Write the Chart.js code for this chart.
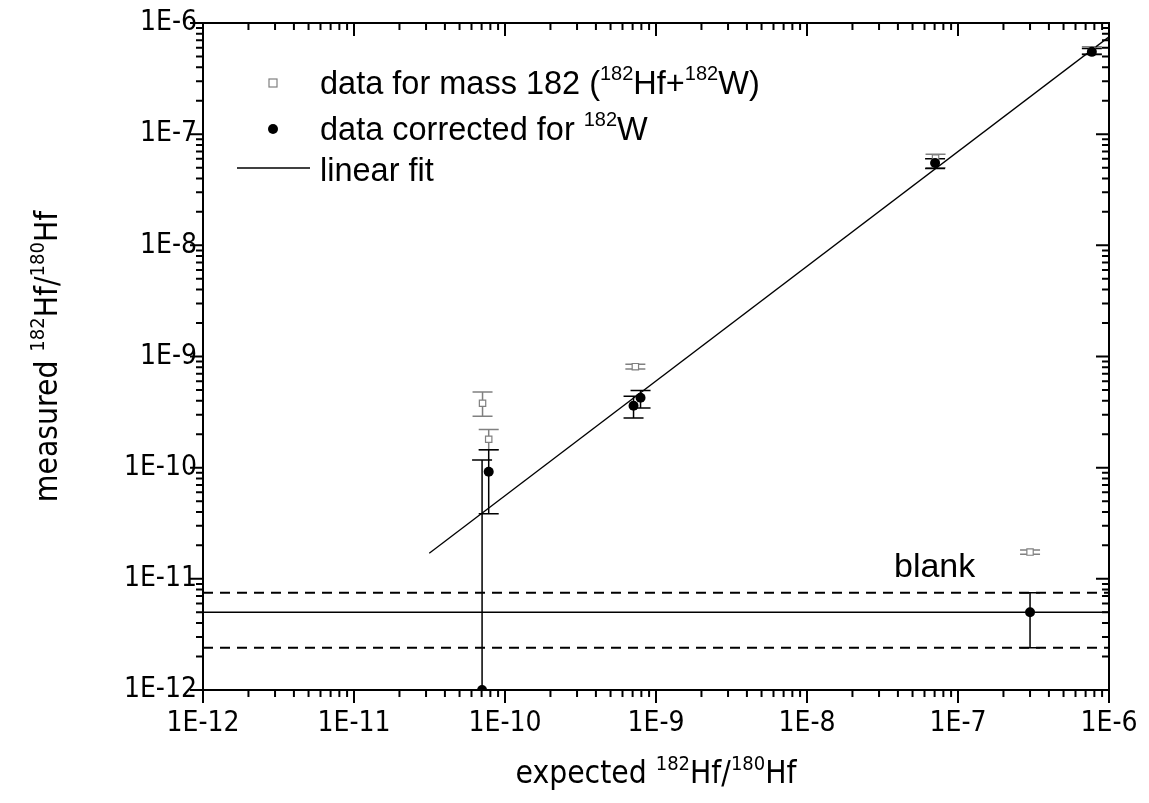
<!DOCTYPE html>
<html>
<head>
<meta charset="utf-8">
<script src="https://cdn.jsdelivr.net/npm/chart.js@4/dist/chart.umd.min.js"></script>
<style>
  html, body { margin: 0; padding: 0; background: #fff; }
</style>
</head>
<body>
<canvas id="chart" width="1149" height="803"></canvas>
<script>
// data for mass 182 (182Hf + 182W)
const massX  = [7.1e-11, 7.8e-11, 7.3e-10, 7.1e-8, 7.7e-7, 3.0e-7];
const massY  = [3.8e-10, 1.8e-10, 8.1e-10, 6.1e-8, 5.7e-7, 1.74e-11];
const massLo = [2.9e-10, 1.45e-10, 7.7e-10, 5.0e-8, 5.3e-7, 1.66e-11];
const massHi = [4.8e-10, 2.2e-10, 8.5e-10, 6.6e-8, 6.1e-7, 1.82e-11];

// data corrected for 182W
const corrX  = [7.05e-11, 7.8e-11, 7.1e-10, 7.9e-10, 7.05e-8, 7.7e-7, 3.0e-7];
const corrY  = [1.0e-12, 9.2e-11, 3.6e-10, 4.25e-10, 5.5e-8, 5.5e-7, 5.0e-12];
const corrLo = [1e-13, 3.85e-11, 2.8e-10, 3.45e-10, 4.9e-8, 5.2e-7, 2.4e-12];
const corrHi = [1.17e-10, 1.45e-10, 4.4e-10, 4.95e-10, 6.0e-8, 5.9e-7, 7.5e-12];

// linear fit
const fitX = [3.15e-11, 1e-6];
const fitY = [1.7e-11, 7.5e-7];

// blank level and its band
const blankX = [1e-12, 1e-6];
const blankMid = [5.0e-12, 5.0e-12];
const blankHi = [7.5e-12, 7.5e-12];
const blankLo = [2.4e-12, 2.4e-12];

const decades = [-12, -11, -10, -9, -8, -7, -6];

const GREY = 'rgb(128,128,128)';
const NARROW = '"Liberation Sans Narrow", "Arial Narrow", "DejaVu Sans Condensed", sans-serif';
const SANS = '"Liberation Sans", Arial, sans-serif';

function pts(xs, ys) {
    return xs.map((x, i) => ({ x: x, y: ys[i] }));
}

function logTicks() {
    const out = [];
    for (let i = 0; i < decades.length; i++) {
        const base = Math.pow(10, decades[i]);
        if (i === decades.length - 1) { out.push({ value: base }); break; }
        for (let m = 1; m <= 9; m++) out.push({ value: m * base });
    }
    return out;
}

function isDecade(v) {
    const e = Math.log10(v);
    return Math.abs(e - Math.round(e)) < 1e-6;
}

function decadeLabel(v) {
    return isDecade(v) ? '1E' + Math.round(Math.log10(v)) : '';
}

// draws text with superscripts; parts = [[text, isSup], ...]
function richText(ctx, parts, x, y, size, family, align) {
    const supSize = Math.round(size * 0.62);
    let total = 0;
    parts.forEach(p => {
        ctx.font = (p[1] ? supSize : size) + 'px ' + family;
        total += ctx.measureText(p[0]).width;
    });
    let cx = align === 'center' ? x - total / 2 : x;
    ctx.textAlign = 'left';
    ctx.textBaseline = 'alphabetic';
    parts.forEach(p => {
        ctx.font = (p[1] ? supSize : size) + 'px ' + family;
        ctx.fillText(p[0], cx, p[1] ? y - size * 0.42 : y);
        cx += ctx.measureText(p[0]).width;
    });
}

const errorBars = {
    id: 'errorBars',
    beforeDatasetsDraw(chart) {
        const { ctx, chartArea: a, scales: { x, y } } = chart;
        ctx.save();
        ctx.beginPath();
        ctx.rect(a.left, a.top, a.right - a.left, a.bottom - a.top);
        ctx.clip();
        const sets = [
            { xs: massX, lo: massLo, hi: massHi, color: GREY },
            { xs: corrX, lo: corrLo, hi: corrHi, color: '#000' }
        ];
        sets.forEach(s => {
            ctx.strokeStyle = s.color;
            ctx.lineWidth = 1.5;
            s.xs.forEach((xv, i) => {
                const px = x.getPixelForValue(xv);
                const p1 = y.getPixelForValue(s.lo[i]);
                const p2 = y.getPixelForValue(s.hi[i]);
                ctx.beginPath();
                ctx.moveTo(px, p1); ctx.lineTo(px, p2);
                ctx.moveTo(px - 10, p1); ctx.lineTo(px + 10, p1);
                ctx.moveTo(px - 10, p2); ctx.lineTo(px + 10, p2);
                ctx.stroke();
            });
        });
        ctx.restore();
    }
};

const frame = {
    id: 'frame',
    afterDraw(chart) {
        const { ctx, chartArea: a, scales: { x, y } } = chart;
        ctx.save();
        ctx.strokeStyle = '#000';
        ctx.lineWidth = 2;
        ctx.strokeRect(a.left, a.top, a.right - a.left, a.bottom - a.top);
        ctx.beginPath();
        x.ticks.forEach(t => {
            const px = x.getPixelForValue(t.value);
            const len = isDecade(t.value) ? 13 : 7;
            ctx.moveTo(px, a.bottom); ctx.lineTo(px, a.bottom + len);
            ctx.moveTo(px, a.top); ctx.lineTo(px, a.top + len);
        });
        y.ticks.forEach(t => {
            const py = y.getPixelForValue(t.value);
            const len = isDecade(t.value) ? 13 : 7;
            ctx.moveTo(a.left - len, py); ctx.lineTo(a.left, py);
            ctx.moveTo(a.right - len, py); ctx.lineTo(a.right, py);
        });
        ctx.stroke();

        // axis titles
        ctx.fillStyle = '#000';
        richText(ctx, [['expected ', false], ['182', true], ['Hf/', false], ['180', true], ['Hf', false]],
            (a.left + a.right) / 2, 783, 31.5, NARROW, 'center');
        ctx.save();
        ctx.translate(57, (a.top + a.bottom) / 2);
        ctx.rotate(-Math.PI / 2);
        richText(ctx, [['measured ', false], ['182', true], ['Hf/', false], ['180', true], ['Hf', false]],
            0, 0, 31.5, NARROW, 'center');
        ctx.restore();

        // legend
        ctx.strokeStyle = GREY;
        ctx.lineWidth = 1.2;
        ctx.strokeRect(269, 79, 8, 8);
        ctx.fillStyle = '#000';
        ctx.beginPath();
        ctx.arc(273, 129, 5, 0, Math.PI * 2);
        ctx.fill();
        ctx.strokeStyle = '#000';
        ctx.lineWidth = 1.3;
        ctx.beginPath();
        ctx.moveTo(237, 168); ctx.lineTo(310, 168);
        ctx.stroke();
        richText(ctx, [['data for mass 182 (', false], ['182', true], ['Hf+', false], ['182', true], ['W)', false]],
            320, 94, 32.5, SANS, 'left');
        richText(ctx, [['data corrected for ', false], ['182', true], ['W', false]], 320, 140, 32.5, SANS, 'left');
        richText(ctx, [['linear fit', false]], 320, 181, 32.5, SANS, 'left');

        // blank label
        richText(ctx, [['blank', false]], 894, 577, 34, SANS, 'left');
        ctx.restore();
    }
};

const tickFont = { family: NARROW, size: 28 };

new Chart(document.getElementById('chart').getContext('2d'), {
    type: 'scatter',
    data: {
        datasets: [
            {
                label: 'data corrected for 182W',
                data: pts(corrX, corrY),
                pointStyle: 'circle',
                pointRadius: 5,
                backgroundColor: '#000',
                borderColor: '#000',
                borderWidth: 0,
                order: 0
            },
            {
                label: 'data for mass 182',
                data: pts(massX, massY),
                pointStyle: 'rect',
                pointRadius: 4.5,
                backgroundColor: '#fff',
                borderColor: GREY,
                borderWidth: 1.2,
                order: 1
            },
            {
                label: 'linear fit',
                data: pts(fitX, fitY),
                showLine: true,
                pointRadius: 0,
                borderColor: '#000',
                borderWidth: 1.3,
                order: 2
            },
            {
                label: 'blank',
                data: pts(blankX, blankMid),
                showLine: true,
                pointRadius: 0,
                borderColor: '#000',
                borderWidth: 1.6,
                order: 3
            },
            {
                label: 'blank upper',
                data: pts(blankX, blankHi),
                showLine: true,
                pointRadius: 0,
                borderColor: '#000',
                borderWidth: 2,
                borderDash: [10, 7],
                order: 3
            },
            {
                label: 'blank lower',
                data: pts(blankX, blankLo),
                showLine: true,
                pointRadius: 0,
                borderColor: '#000',
                borderWidth: 2,
                borderDash: [10, 7],
                order: 3
            }
        ]
    },
    options: {
        responsive: false,
        animation: false,
        layout: { padding: { top: 23, right: 40, left: 0, bottom: 0 } },
        plugins: {
            legend: { display: false },
            tooltip: { enabled: false }
        },
        scales: {
            x: {
                type: 'logarithmic',
                min: 1e-12,
                max: 1e-6,
                afterBuildTicks: s => { s.ticks = logTicks(); },
                afterFit: s => { s.height = 113; s.paddingLeft = 0; s.paddingRight = 0; },
                grid: { display: false, drawTicks: false },
                border: { display: false },
                ticks: {
                    autoSkip: false,
                    maxRotation: 0,
                    padding: 17,
                    color: '#000',
                    font: tickFont,
                    callback: v => decadeLabel(v)
                }
            },
            y: {
                type: 'logarithmic',
                min: 1e-12,
                max: 1e-6,
                afterBuildTicks: s => { s.ticks = logTicks(); },
                afterFit: s => { s.width = 203; s.paddingTop = 0; s.paddingBottom = 0; },
                grid: { display: false, drawTicks: false },
                border: { display: false },
                ticks: {
                    autoSkip: false,
                    padding: 6,
                    color: '#000',
                    font: tickFont,
                    callback: v => decadeLabel(v)
                }
            }
        }
    },
    plugins: [errorBars, frame]
});
</script>
</body>
</html>
